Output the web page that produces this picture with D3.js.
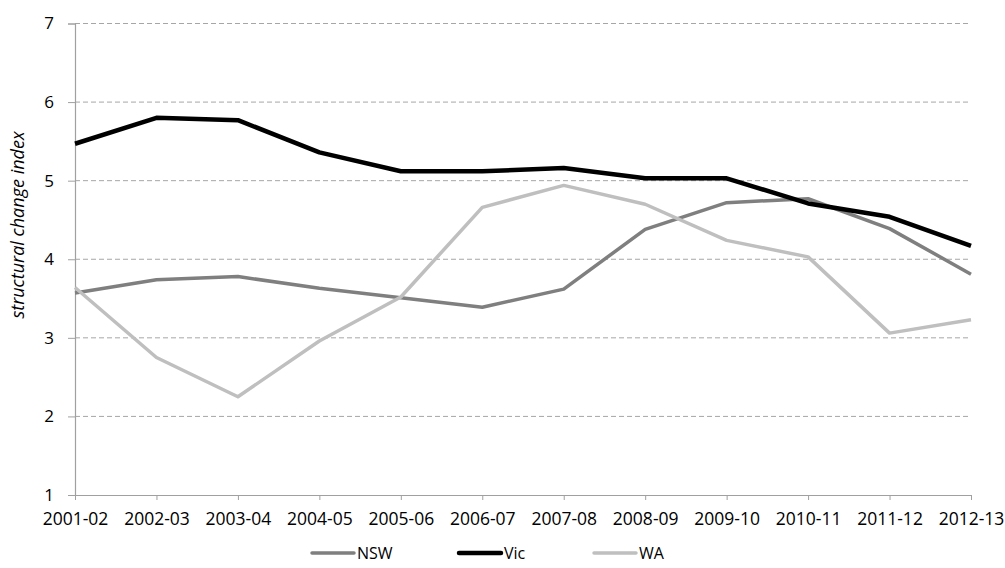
<!DOCTYPE html>
<html>
<head>
<meta charset="utf-8">
<script src="https://cdn.jsdelivr.net/npm/d3@7"></script>
<style>
  body { margin: 0; background: #fff; }
  text { font-family: "Open Sans", sans-serif; fill: #000; }
</style>
</head>
<body>
<div id="chart"></div>
<script>
// chart data
const years = ["2001-02","2002-03","2003-04","2004-05","2005-06","2006-07","2007-08","2008-09","2009-10","2010-11","2011-12","2012-13"];
const nsw = [3.57,3.74,3.78,3.63,3.51,3.39,3.62,4.38,4.72,4.77,4.39,3.81];
const vic = [5.47,5.80,5.77,5.36,5.12,5.12,5.16,5.03,5.03,4.71,4.54,4.17];
const wa  = [3.64,2.75,2.25,2.96,3.52,4.66,4.94,4.70,4.24,4.03,3.06,3.23];
const yTicks = [1,2,3,4,5,6,7];

const series = [
  {name: "NSW", values: nsw, color: "#7f7f7f", w: 3.5},
  {name: "Vic", values: vic, color: "#000000", w: 4.5},
  {name: "WA",  values: wa,  color: "#bfbfbf", w: 3.5}
];

let width = 1005, height = 568;
let plotLeft = 75, plotRight = 971, plotTop = 23.5, plotBottom = 495;

let svg = d3.select('#chart').append('svg')
  .attr('width', width)
  .attr('height', height);

let x = d3.scalePoint().domain(years).range([plotLeft, plotRight]);
let y = d3.scaleLinear().domain([1, 7]).range([plotBottom, plotTop]);

// gridlines
svg.append('g')
  .selectAll('line')
  .data(yTicks.filter(d => d > 1))
  .join('line')
  .attr('x1', plotLeft).attr('x2', plotRight)
  .attr('y1', d => y(d)).attr('y2', d => y(d))
  .attr('stroke', '#a6a6a6')
  .attr('stroke-width', 1)
  .attr('stroke-dasharray', '5,3');

// y axis
let yAxis = svg.append('g')
  .attr('transform', `translate(${plotLeft},0)`)
  .call(d3.axisLeft(y).tickValues(yTicks).tickFormat(d3.format('d')).tickSize(7).tickPadding(14));
yAxis.select('.domain').attr('stroke', '#a0a0a0').attr('stroke-width', 1.2);
yAxis.selectAll('.tick line').attr('stroke', '#a0a0a0');
yAxis.selectAll('.tick text').attr('font-size', '17px').attr('font-family', '"Open Sans", sans-serif').attr('fill', '#000');

// x axis
let xAxis = svg.append('g')
  .attr('transform', `translate(0,${plotBottom})`)
  .call(d3.axisBottom(x).tickSize(5).tickPadding(13).tickSizeOuter(0));
xAxis.select('.domain').attr('stroke', '#a0a0a0').attr('stroke-width', 1.2);
xAxis.selectAll('.tick line').attr('stroke', '#a0a0a0');
xAxis.selectAll('.tick text').attr('font-size', '17.5px').attr('font-family', '"Open Sans", sans-serif').attr('fill', '#000');

// y title
svg.append('text')
  .attr('transform', 'translate(24,225) rotate(-90)')
  .attr('text-anchor', 'middle')
  .attr('font-size', '18px')
  .attr('font-style', 'italic')
  .text('structural change index');

// lines
let line = d3.line()
  .x((d, i) => x(years[i]))
  .y(d => y(d));

svg.append('g')
  .selectAll('path')
  .data(series)
  .join('path')
  .attr('d', d => line(d.values))
  .attr('fill', 'none')
  .attr('stroke', d => d.color)
  .attr('stroke-width', d => d.w)
  .attr('stroke-linejoin', 'round');

// legend
let legendX = [312, 459, 594];
let legend = svg.append('g')
  .selectAll('g')
  .data(series)
  .join('g')
  .attr('transform', (d, i) => `translate(${legendX[i]},553)`);
legend.append('line')
  .attr('x1', 0).attr('x2', 42)
  .attr('y1', 0).attr('y2', 0)
  .attr('stroke', d => d.color)
  .attr('stroke-width', d => d.w)
  .attr('stroke-linecap', 'round');
legend.append('text')
  .attr('x', 45)
  .attr('y', 6)
  .attr('font-size', '16px')
  .text(d => d.name);
</script>
</body>
</html>
